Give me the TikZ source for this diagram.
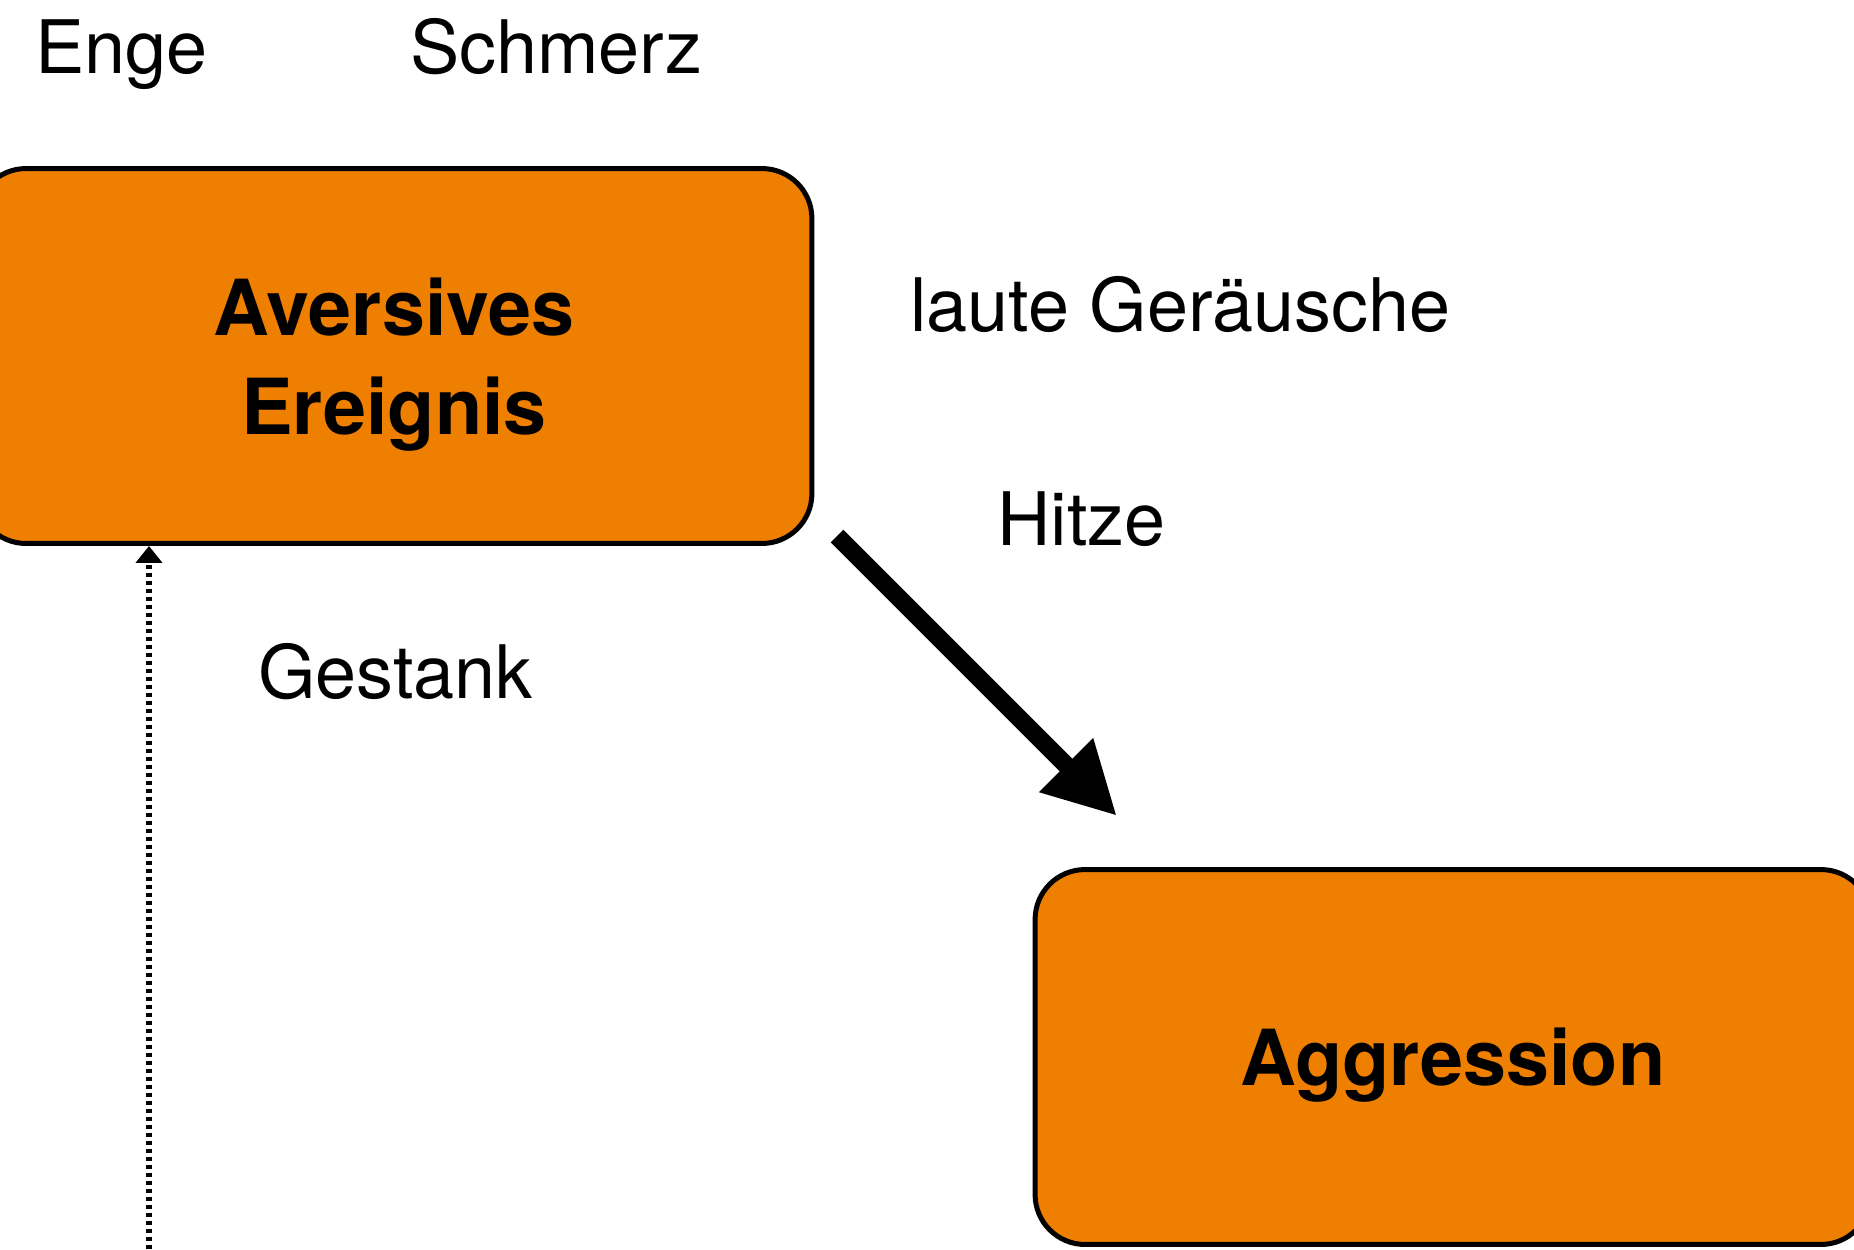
\documentclass[tikz,border=0pt]{standalone}
\usepackage{fontspec}
\setmainfont{TeX Gyre Heros}
\usetikzlibrary{arrows.meta}
\definecolor{boxorange}{RGB}{239,127,0}

\begin{document}
\begin{tikzpicture}[x=0.02cm,y=-0.02cm,
  event/.style={draw=black,line width=0.1cm,fill=boxorange,rounded corners=1cm,
    minimum width=16.72cm,minimum height=7.5cm,align=center,text depth=0pt,
    font=\fontsize{44}{56}\selectfont\bfseries},
  cue/.style={anchor=base west,inner sep=0pt,font=\fontsize{42}{50}\selectfont}]
  \useasboundingbox (0,0) rectangle (1854,1249);
  \node[event] (ev) at (394,356) {Aversives\\Ereignis};
  \node[event] (agg) at (1453,1057) {Aggression};
  \foreach \n/\x/\y/\t in {enge/35/73/Enge, schmerz/410/73/Schmerz, laut/910/331/laute Geräusche, hitze/997/545/Hitze, gestank/258/698/Gestank}
    \node[cue] (\n) at (\x,\y) {\t};
  \coordinate (hs) at (837,536);
  \coordinate (ht) at (1117,816);
  \draw[line width=0.36cm,-{Triangle[length=1.44cm,width=1.42cm]}] (hs) -- (ht);
  \coordinate (gb) at (149,1249);
  \draw[line width=0.11cm,dash pattern=on 0.09cm off 0.07cm,-{Triangle[length=0.34cm,width=0.52cm]}] (gb) -- (gb |- ev.south);
\end{tikzpicture}
\end{document}
